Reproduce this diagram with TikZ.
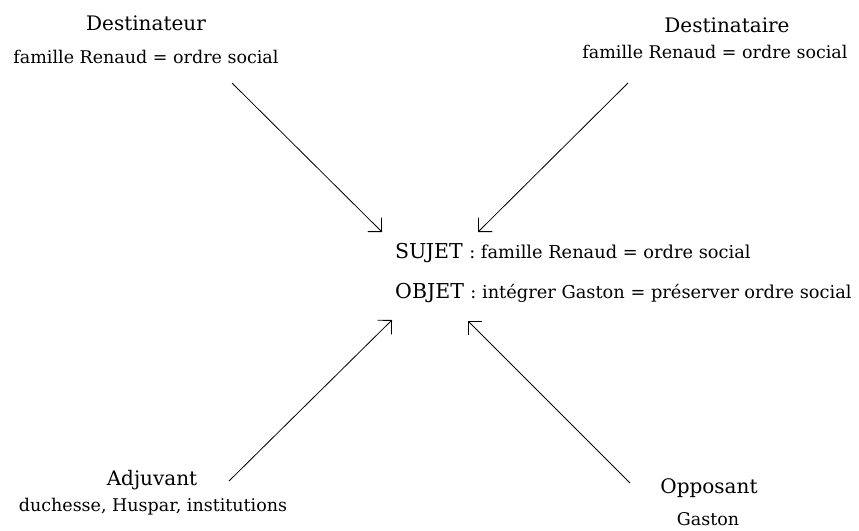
\documentclass[tikz,border=0pt]{standalone}
\usepackage{fontspec}
\setmainfont{DejaVu Serif}
\usetikzlibrary{arrows.meta}

\tikzset{
  role/.style={anchor=base,inner sep=0pt,font=\fontsize{20}{24}\selectfont},
  detail/.style={anchor=base,inner sep=0pt,font=\fontsize{17.5}{21}\selectfont},
  actant/.style={anchor=base west,inner sep=0pt,font=\fontsize{20.5}{24}\selectfont},
  link/.style={line width=0.8pt,-{Straight Barb[angle=90:14pt,line width=0.8pt]}}
}

\begin{document}
\begin{tikzpicture}[x=1pt,y=-1pt]
\useasboundingbox (0,0) rectangle (859,530);
\node[role] (dest) at (146,30) {Destinateur};
\node[detail] (destsub) at (146,63) {famille Renaud = ordre social};
\node[role] (destre) at (727,32) {Destinataire};
\node[detail] (destresub) at (715,58) {famille Renaud = ordre social};
\node[actant] (sujet) at (395,258) {SUJET {\fontsize{17.8}{21}\selectfont: famille Renaud = ordre social}};
\node[actant] (objet) at (395,298) {OBJET {\fontsize{17.8}{21}\selectfont: intégrer Gaston = préserver ordre social}};
\node[role] (adj) at (152,485) {Adjuvant};
\node[detail] (adjsub) at (153,511) {duchesse, Huspar, institutions};
\node[role] (opp) at (709,493) {Opposant};
\node[detail] (oppsub) at (708,525) {Gaston};
\coordinate (destout) at (232,83);
\coordinate (destin) at (382,232);
\coordinate (destreout) at (628,83);
\coordinate (destrein) at (478,232);
\coordinate (adjout) at (229,481);
\coordinate (adjin) at (392,320);
\coordinate (oppout) at (630,483);
\coordinate (oppin) at (468,321);
\draw[link] (destout) -- (destin);
\draw[link] (destreout) -- (destrein);
\draw[link] (adjout) -- (adjin);
\draw[link] (oppout) -- (oppin);
\end{tikzpicture}
\end{document}
